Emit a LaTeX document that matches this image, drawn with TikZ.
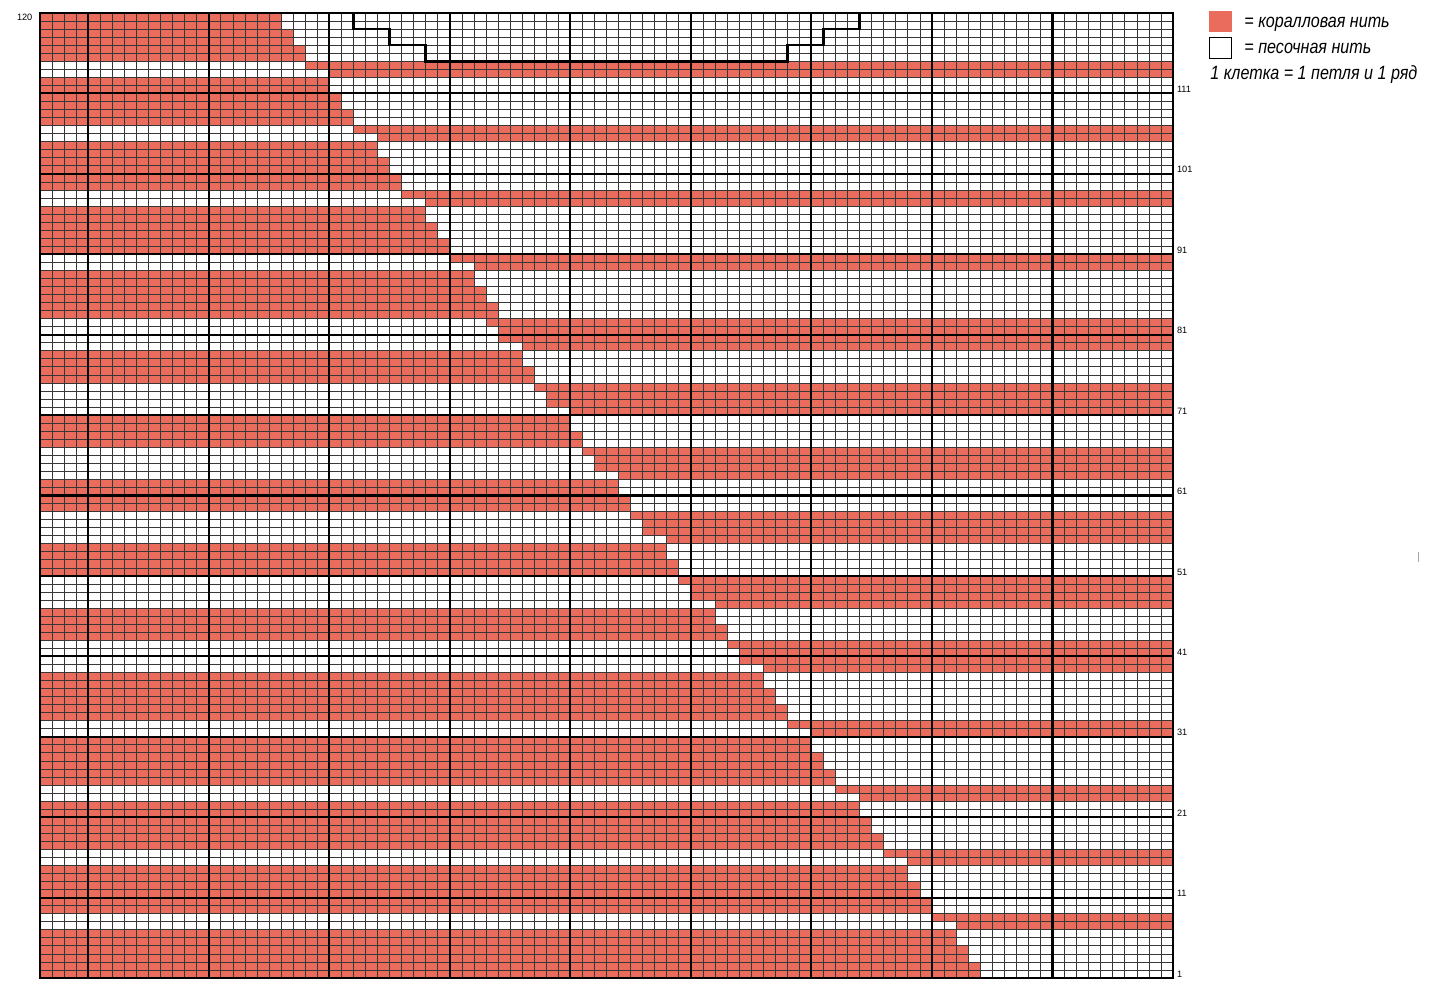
\documentclass[tikz,border=0pt]{standalone}
\usepackage{fontspec}
\setmainfont{Liberation Sans}
\definecolor{coral}{RGB}{234,108,92}
\definecolor{gridgray}{RGB}{55,55,55}
\tikzset{
  gridline/.style={draw=gridgray,line width=0.35pt},
  thickline/.style={draw=black,line width=1.05pt},
  neckline/.style={draw=black,line width=1.3pt,line join=miter},
  rowlab/.style={font=\fontsize{4.6pt}{5pt}\selectfont,inner sep=0pt},
  legtext/.style={font=\itshape\fontsize{9.6pt}{10pt}\selectfont,inner sep=0pt},
}
\newcommand{\narrowtxt}[1]{\scalebox{0.84}[1]{#1}}
\begin{document}
\begin{tikzpicture}[x=0.5pt,y=-0.5pt]
\useasboundingbox (0,0) rectangle (1440,1000);
\begin{scope}[shift={(40,978)},x=6.0266pt,y=4.02085pt]
\foreach \r/\l/\b in {1/1/78, 2/1/78, 3/1/77, 4/1/77, 5/1/76, 6/1/76, 7/0/76, 8/0/74, 9/1/74, 10/1/74, 11/1/73, 12/1/73, 13/1/72, 14/1/72, 15/0/72, 16/0/70, 17/1/70, 18/1/70, 19/1/69, 20/1/69, 21/1/68, 22/1/68, 23/0/68, 24/0/66, 25/1/66, 26/1/66, 27/1/65, 28/1/65, 29/1/64, 30/1/64, 31/0/64, 32/0/62, 33/1/62, 34/1/62, 35/1/61, 36/1/61, 37/1/60, 38/1/60, 39/0/60, 40/0/58, 41/0/58, 42/0/57, 43/1/57, 44/1/57, 45/1/56, 46/1/56, 47/0/56, 48/0/54, 49/0/54, 50/0/53, 51/1/53, 52/1/53, 53/1/52, 54/1/52, 55/0/52, 56/0/50, 57/0/50, 58/0/49, 59/1/49, 60/1/49, 61/1/48, 62/1/48, 63/0/48, 64/0/46, 65/0/46, 66/0/45, 67/1/45, 68/1/45, 69/1/44, 70/1/44, 71/0/44, 72/0/42, 73/0/42, 74/0/41, 75/1/41, 76/1/41, 77/1/40, 78/1/40, 79/0/40, 80/0/38, 81/0/38, 82/0/37, 83/1/38, 84/1/38, 85/1/37, 86/1/37, 87/1/36, 88/1/36, 89/0/36, 90/0/34, 91/1/34, 92/1/34, 93/1/33, 94/1/33, 95/1/32, 96/1/32, 97/0/32, 98/0/30, 99/1/30, 100/1/30, 101/1/29, 102/1/29, 103/1/28, 104/1/28, 105/0/28, 106/0/26, 107/1/26, 108/1/26, 109/1/25, 110/1/25, 111/1/24, 112/1/24, 113/0/24, 114/0/22, 115/1/22, 116/1/22, 117/1/21, 118/1/21, 119/1/20, 120/1/20}{
  \ifnum\l=1
    \fill[coral] (0,\r-1) rectangle (\b,\r);
  \else
    \fill[coral] (\b,\r-1) rectangle (94,\r);
  \fi
}
\foreach \c in {1,...,93} \draw[gridline] (\c,0) -- (\c,120);
\foreach \k in {1,...,119} \draw[gridline] (0,\k) -- (94,\k);
\foreach \c in {4,14,...,84} \draw[thickline] (\c,0) -- (\c,120);
\foreach \k in {10,20,...,110} \draw[thickline] (0,\k) -- (94,\k);
\draw[thickline] (0,0) rectangle (94,120);
\draw[neckline] (26,120) -- (26,118) -- (29,118) -- (29,116) -- (32,116) -- (32,114)
  -- (62,114) -- (62,116) -- (65,116) -- (65,118) -- (68,118) -- (68,120);
\foreach \n in {1,11,...,111} \node[rowlab,anchor=west] (lab\n) at (94.3,\n-0.5) {\n};
\node[rowlab,anchor=east] (lab120) at (-0.6,119.5) {120};
\end{scope}
\node[fill=coral,minimum width=11.5pt,minimum height=10.5pt,inner sep=0pt] (legc) at (1220,22) {};
\node[draw=black,line width=0.4pt,fill=white,minimum width=11pt,minimum height=10.5pt,inner sep=0pt] (legw) at (1220,47.5) {};
\node[legtext,anchor=base west] (legct) at (1244,28) {\narrowtxt{= коралловая нить}};
\node[legtext,anchor=base west] (legwt) at (1244,54) {\narrowtxt{= песочная нить}};
\node[legtext,anchor=base west] (legnote) at (1210,80) {\narrowtxt{1 клетка = 1 петля и 1 ряд}};
\draw[gray!70,line width=0.4pt] (1418,552) -- (1418,562);
\end{tikzpicture}
\end{document}
